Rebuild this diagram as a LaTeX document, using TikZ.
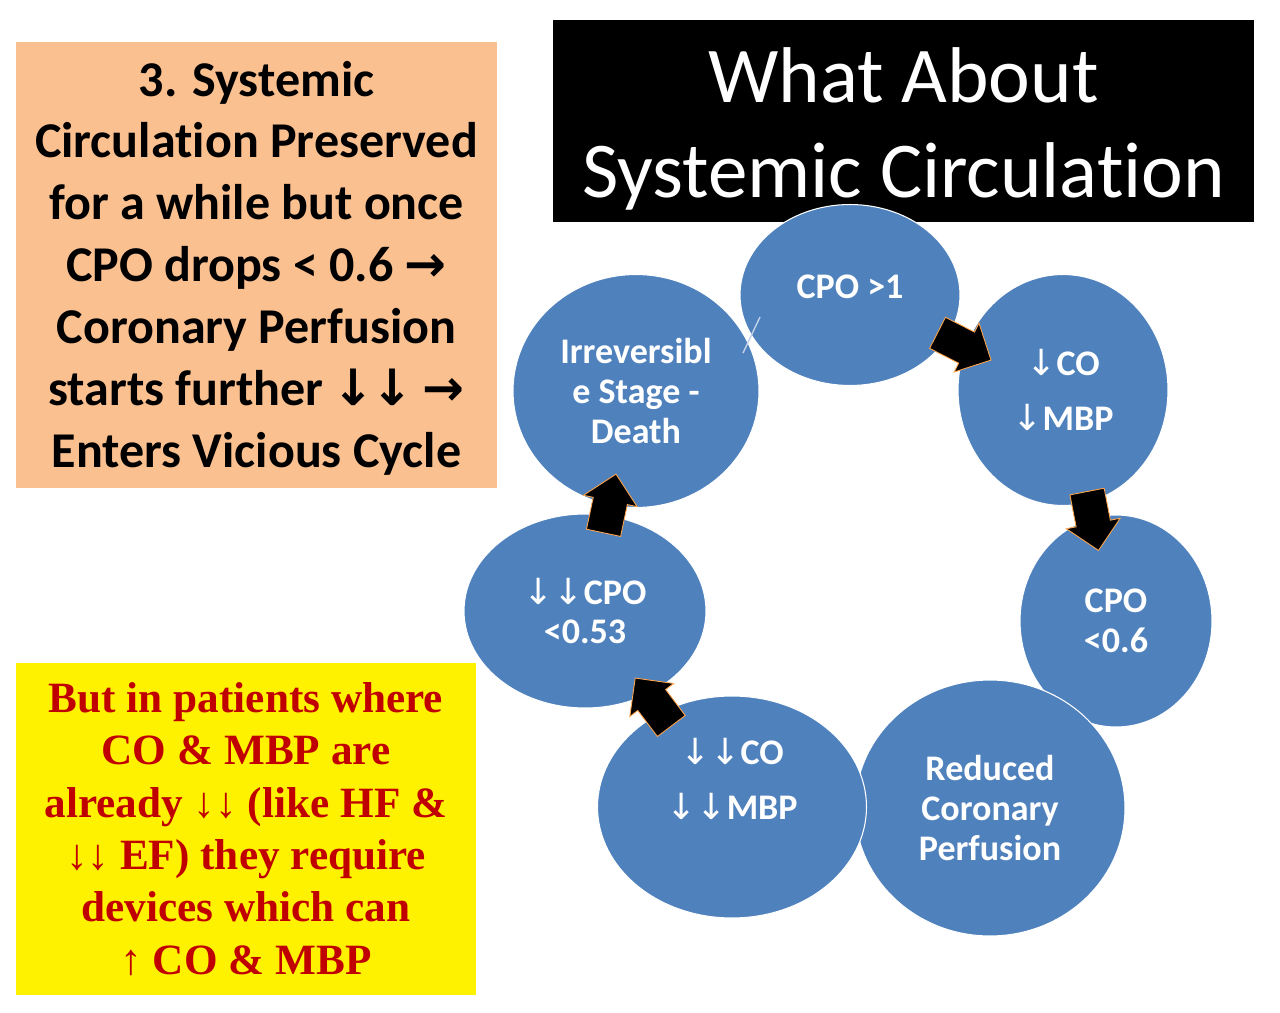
\documentclass[tikz,border=0pt]{standalone}
\usepackage{fontspec}
\setmainfont{Carlito}[Ligatures=NoCommon]
\newfontfamily\arrowfont{DejaVu Sans}
\newfontfamily\boxserif{Liberation Serif}
\usetikzlibrary{calc,shapes.geometric,shapes.arrows}
\definecolor{bubbleblue}{HTML}{4F81BD}
\definecolor{peach}{HTML}{FAC090}
\definecolor{boxred}{HTML}{C00000}
\newcommand{\dn}{{\arrowfont\mdseries ↓}}
\newcommand{\bdn}{{\arrowfont\kern-1pt↓\kern-1pt}}
\newcommand{\rt}{{\arrowfont →}}

\begin{document}
\begin{tikzpicture}[x=0.02cm,y=-0.02cm,
    bubble/.style={ellipse,fill=bubbleblue,draw=white,line width=0.6pt,inner sep=0pt},
    bubbletext/.style={text=white,align=center,font=\bfseries\fontsize{20.5}{22.5}\selectfont},
    blockarrow/.style={single arrow,fill=black,draw=orange!70,line width=0.5pt,inner xsep=0pt,inner ysep=0.34cm,
        minimum height=1.2cm,single arrow head extend=0.2cm}]
    \useasboundingbox (0,0) rectangle (1280,1013);
    % side boxes
    \coordinate (OA) at (16,42);
    \coordinate (OB) at (497,488);
    \fill[peach] (OA) rectangle (OB);
    \node[align=center,font=\bfseries\fontsize{28.5}{35.2}\selectfont] (note) at ($(OA)!.5!(OB)+(0,3)$)
        {3. Systemic\\ Circulation Preserved\\ for a while but once\\ CPO drops < 0.6 \rt\\
         Coronary Perfusion\\ starts further \bdn\bdn\ \rt\\ Enters Vicious Cycle};
    \coordinate (YA) at (16,663);
    \coordinate (YB) at (476,995);
    \fill[yellow] (YA) rectangle (YB);
    \node[align=center,text=boxred,font=\boxserif\bfseries\fontsize{24.6}{29.8}\selectfont] (devices) at ($(YA)!.5!(YB)$)
        {But in patients where\\ CO \& MBP are\\ already ↓↓ (like HF \&\\ ↓↓ EF) they require\\
         devices which can\\ ↑ CO \& MBP};
    % title
    \coordinate (TA) at (553,20);
    \coordinate (TB) at (1254,222);
    \fill[black] (TA) rectangle (TB);
    \node[align=center,text=white,font=\fontsize{45}{54}\selectfont] (title) at ($(TA)!.5!(TB)+(0,8)$)
        {What About\\ Systemic Circulation};
    % cycle
    \node[bubble,minimum width=4.4cm,minimum height=3.62cm] (cpo) at (850,295) {};
    \node[bubbletext] (cpotext) at (850,287) {CPO >1};
    \node[bubble,minimum width=4.2cm,minimum height=4.62cm,bubbletext,font=\bfseries\fontsize{20.5}{31}\selectfont]
        (co) at (1063,390) {\dn CO\\ \dn MBP};
    \node[bubble,minimum width=3.84cm,minimum height=4.24cm,bubbletext] (low) at (1116,621) {CPO\\ <0.6};
    \node[bubble,minimum width=5.4cm,minimum height=5.12cm,bubbletext] (flow) at (990,808)
        {Reduced\\ Coronary\\ Perfusion};
    \node[bubble,minimum width=5.38cm,minimum height=4.44cm] (coco) at (732,807) {};
    \node[bubbletext,font=\bfseries\fontsize{20.5}{31}\selectfont] (cocotext) at (732,779) {\dn\dn CO\\ \dn\dn MBP};
    \node[bubble,minimum width=4.84cm,minimum height=3.88cm,bubbletext] (crit) at (585,611) {\dn\dn CPO\\ <0.53};
    \node[bubble,minimum width=4.92cm,minimum height=4.66cm,bubbletext] (death) at (636,391)
        {Irreversibl\\ e Stage -\\ Death};
    \coordinate (S1) at (743,353);
    \coordinate (S2) at (760,317);
    \draw[white!65!bubbleblue,line width=0.8pt] (S1) -- (S2);
    % arrows
    \node[blockarrow,rotate=-27] (a1) at ($(cpo)!.5!(co)$) {};
    \node[blockarrow,rotate=-79] (a2) at ($(co)!.53!(low)$) {};
    \node[blockarrow,rotate=127] (a3) at ($(coco)!.5!(crit)$) {};
    \node[blockarrow,rotate=78] (a4) at ($(crit)!.45!(death)$) {};
\end{tikzpicture}
\end{document}
